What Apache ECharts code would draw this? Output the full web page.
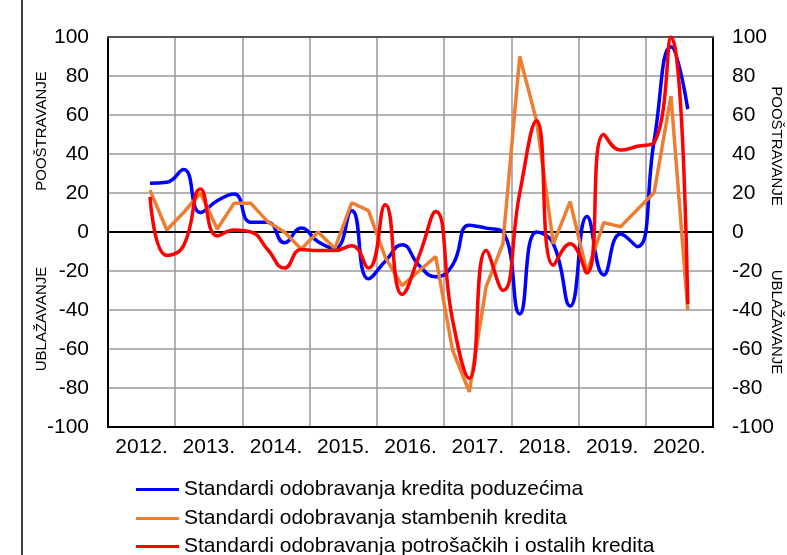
<!DOCTYPE html>
<html>
<head>
<meta charset="utf-8">
<script src="https://cdn.jsdelivr.net/npm/echarts@6/dist/echarts.min.js"></script>
<style>
html,body{margin:0;padding:0;background:#fff;}
#chart{width:787px;height:555px;}
</style>
</head>
<body>
<div id="chart"></div>
<script>
// ---- data ----
const years = ['2012.', '2013.', '2014.', '2015.', '2016.', '2017.', '2018.', '2019.', '2020.'];
const yTicks = [-100, -80, -60, -40, -20, 0, 20, 40, 60, 80, 100];
// quarterly observations from 2012 Q3 to 2020 Q3
const firstQuarterIndex = 2; // 2012 Q3
const poduzeca = [25, 25.5, 32, 10, 16, 19.5, 5, 5, -5.5, 2, -5, -8.5, 11, -24, -15, -6.5, -17, -23, -17, 3.5, 2, 0, -42, 0, -6, -38, 8, -22, -1, -7.5, 47, 95, 63];
const stambeni = [21.5, 1, 10, 20, 1.5, 14.7, 14.7, 5.3, 0, -8.7, 0, -8.4, 15, 11, -13, -27.5, -20, -12.6, -60.5, -82, -28, -6, 90, 57, -6, 15.6, -20.5, 4.8, 2.7, 11.5, 20.3, 69.7, -40];
const potrosacki = [18, -12, -7, 22, -2, 1, 0, -9, -18.5, -9, -9.5, -9.5, -7, -18.5, 14, -32, -12.5, 10.5, -45, -75, -9.5, -30, 20, 57, -17, -6, -21, 50, 42, 44, 46, 100, -37];
const seriesNames = [
  'Standardi odobravanja kredita poduzećima',
  'Standardi odobravanja stambenih kredita',
  'Standardi odobravanja potrošačkih i ostalih kredita'
];

// ---- build ----
const quarters = [];
years.forEach(y => ['Q1','Q2','Q3','Q4'].forEach(q => quarters.push(y + q)));
function pad(arr) {
  return quarters.map((q, i) => {
    const k = i - firstQuarterIndex;
    return (k >= 0 && k < arr.length) ? arr[k] : null;
  });
}
const FONT = '"Liberation Sans", Arial, sans-serif';
const chart = echarts.init(document.getElementById('chart'));
const yAxisBase = {
  type: 'value', min: -100, max: 100, interval: 20,
  axisTick: { show: false },
  axisLine: { show: true, onZero: false, lineStyle: { color: '#000', width: 2 } },
  axisLabel: { fontSize: 21, color: '#000', fontFamily: FONT, margin: 19 }
};
const legendTops = [474, 503, 531];
chart.setOption({
  animation: false,
  backgroundColor: '#fff',
  grid: { left: 108, right: 74, top: 37, bottom: 128, containLabel: false },
  xAxis: [
    {
      type: 'category', data: years, boundaryGap: true, position: 'bottom',
      axisLine: { show: true, onZero: false, lineStyle: { color: '#000', width: 2 } },
      axisTick: { show: false },
      axisLabel: { fontSize: 21, color: '#000', fontFamily: FONT, margin: 10, interval: 0 },
      splitLine: { show: true, interval: 0, lineStyle: { color: '#999', width: 1.5 } }
    },
    {
      type: 'category', data: quarters, boundaryGap: true, position: 'bottom',
      axisLine: { show: true, onZero: true, onZeroAxisIndex: 0, lineStyle: { color: '#000', width: 2 } },
      axisTick: { show: false }, axisLabel: { show: false }, splitLine: { show: false }
    },
    {
      type: 'category', data: years, position: 'top',
      axisLine: { show: true, onZero: false, lineStyle: { color: '#555', width: 2 } },
      axisTick: { show: false }, axisLabel: { show: false }, splitLine: { show: false }
    }
  ],
  yAxis: [
    Object.assign({}, yAxisBase, {
      position: 'left',
      splitLine: { show: true, lineStyle: { color: '#b4b4b4', width: 2 } }
    }),
    Object.assign({}, yAxisBase, {
      position: 'right',
      splitLine: { show: false }
    })
  ],
  legend: seriesNames.map((n, i) => ({
    orient: 'vertical', left: 131, top: legendTops[i],
    icon: 'rect', itemWidth: 43, itemHeight: 3,
    textStyle: { fontSize: 21, color: '#000', fontFamily: FONT },
    data: [n]
  })),
  series: [
    { name: seriesNames[0], type: 'line', xAxisIndex: 1, yAxisIndex: 0, data: pad(poduzeca),
      smooth: 0.5, showSymbol: false, color: '#0000FF', lineStyle: { width: 3.5, color: '#0000FF' } },
    { name: seriesNames[1], type: 'line', xAxisIndex: 1, yAxisIndex: 0, data: pad(stambeni),
      smooth: false, showSymbol: false, color: '#ED7D31', lineStyle: { width: 3.5, color: '#ED7D31' } },
    { name: seriesNames[2], type: 'line', xAxisIndex: 1, yAxisIndex: 0, data: pad(potrosacki),
      smooth: 0.5, showSymbol: false, color: '#FF0000', lineStyle: { width: 3.5, color: '#FF0000' } }
  ],
  graphic: [
    { type: 'line', shape: { x1: 22, y1: 0, x2: 22, y2: 555 }, style: { stroke: '#000', lineWidth: 1.5 } },
    { type: 'text', x: 42, y: 131, rotation: Math.PI / 2,
      style: { text: 'POOŠTRAVANJE', font: '15px ' + FONT, fill: '#000', textAlign: 'center', textVerticalAlign: 'middle' } },
    { type: 'text', x: 42, y: 319, rotation: Math.PI / 2,
      style: { text: 'UBLAŽAVANJE', font: '15px ' + FONT, fill: '#000', textAlign: 'center', textVerticalAlign: 'middle' } },
    { type: 'text', x: 776, y: 146, rotation: -Math.PI / 2,
      style: { text: 'POOŠTRAVANJE', font: '15px ' + FONT, fill: '#000', textAlign: 'center', textVerticalAlign: 'middle' } },
    { type: 'text', x: 776, y: 322, rotation: -Math.PI / 2,
      style: { text: 'UBLAŽAVANJE', font: '15px ' + FONT, fill: '#000', textAlign: 'center', textVerticalAlign: 'middle' } }
  ]
});
</script>
</body>
</html>
